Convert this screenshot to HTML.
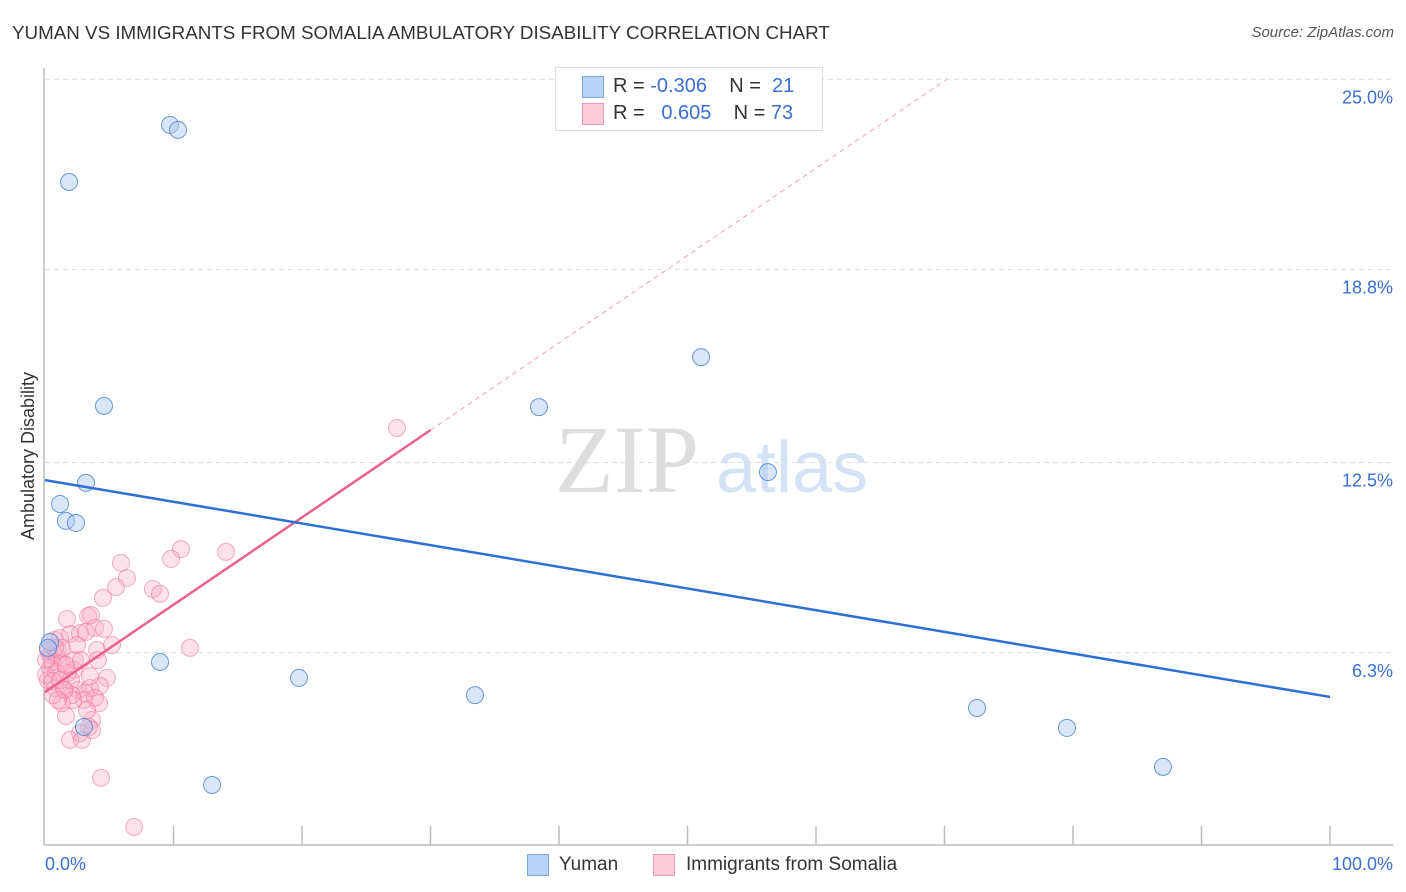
<!DOCTYPE html>
<html><head><meta charset="utf-8">
<style>
body{margin:0;background:#fff;font-family:"Liberation Sans",sans-serif;}
#wrap{position:relative;width:1406px;height:892px;overflow:hidden;}
.t{position:absolute;white-space:nowrap;}
</style></head>
<body>
<div id="wrap">
<div class="t" style="left:12px;top:22px;font-size:18.8px;color:#333;">YUMAN VS IMMIGRANTS FROM SOMALIA AMBULATORY DISABILITY CORRELATION CHART</div>
<div class="t" style="right:12px;top:24px;font-size:15px;color:#555;font-style:italic;">Source: ZipAtlas.com</div>
<svg id="svg" width="1406" height="892" style="position:absolute;left:0;top:0">
<text x="555" y="492" font-size="96" font-family="Liberation Serif" fill="#ddd">ZIP</text>
<text x="716" y="492" font-size="72" font-family="Liberation Sans" fill="#d3e2f4">atlas</text>
<text transform="translate(34,456) rotate(-90)" text-anchor="middle" font-size="18" fill="#333">Ambulatory Disability</text>
</svg>
<div class="t" style="left:555px;top:67px;width:266px;height:62px;border:1px solid #ddd;background:#fff;">
 <div style="position:absolute;left:26px;top:8px;width:20px;height:20px;background:#b8d3f5;border:1px solid #7aa7e0;"></div>
 <div style="position:absolute;left:26px;top:35px;width:20px;height:20px;background:#fbc9d8;border:1px solid #ef9ab6;"></div>
 <div class="t" style="left:57px;top:7px;font-size:20px;color:#333;">R = <span style="color:#3a6fd0">-0.306</span>&nbsp;&nbsp;&nbsp; N = &nbsp;<span style="color:#3a6fd0">21</span></div>
 <div class="t" style="left:57px;top:34px;font-size:20px;color:#333;">R = &nbsp;&nbsp;<span style="color:#3a6fd0">0.605</span>&nbsp;&nbsp;&nbsp; N = <span style="color:#3a6fd0">73</span></div>
</div>
<div class="t" style="left:527px;top:854px;width:20px;height:20px;background:#b8d3f5;border:1px solid #7aa7e0;"></div>
<div class="t" style="left:559px;top:854px;font-size:19px;color:#333;">Yuman</div>
<div class="t" style="left:653px;top:854px;width:20px;height:20px;background:#fbc9d8;border:1px solid #ef9ab6;"></div>
<div class="t" style="left:686px;top:854px;font-size:19px;color:#333;">Immigrants from Somalia</div>
</div>
<script>
const yTicks=[25.0,18.8,12.5,6.3];
const yTickLabels=["25.0%","18.8%","12.5%","6.3%"];
const xTickLabels=["0.0%","100.0%"];
const yumanX=[9.73,10.35,1.87,4.59,3.19,1.17,1.63,2.41,8.95,19.77,33.46,38.44,51.05,56.26,72.53,79.53,87.0,13.0,3.03,0.39,0.23];
const yumanY=[23.51,23.35,21.65,14.35,11.84,11.15,10.6,10.53,6.0,5.48,4.92,14.31,15.94,12.19,4.5,3.85,2.58,1.99,3.88,6.65,6.46];
const somX=[27.39,10.58,14.09,9.81,5.91,6.38,5.53,8.40,8.95,4.51,1.71,3.35,3.58,11.28,5.21,3.89,4.59,0.78,1.95,2.72,3.19,1.17,2.49,4.05,0.39,0.93,1.32,2.26,1.79,0.39,0.86,0.23,4.12,4.82,0.78,1.56,2.57,3.50,4.28,3.11,2.10,4.20,3.03,1.32,1.63,3.66,3.42,2.72,1.95,2.88,6.93,4.36,3.66,0.54,1.01,0.08,0.08,0.62,1.32,2.33,3.50,0.62,2.02,1.63,0.23,1.17,2.80,3.89,3.27,2.18,0.78,1.48,1.01];
const somY=[13.63,9.68,9.59,9.36,9.23,8.74,8.44,8.38,8.22,8.09,7.40,7.50,7.53,6.46,6.55,7.11,7.08,6.72,6.91,6.94,6.98,6.78,6.55,6.39,6.23,6.16,5.97,5.74,5.64,5.80,5.67,5.41,6.06,5.48,5.15,5.09,5.09,5.15,5.22,4.99,4.92,4.66,4.76,4.66,4.24,4.11,3.88,3.68,3.46,3.46,0.62,2.22,3.78,6.0,6.39,6.06,5.58,5.38,6.46,6.06,5.54,4.92,5.41,5.90,6.39,5.41,6.06,4.83,4.43,4.76,6.46,5.09,4.76];
const yumanTrend=[11.93,4.86]; // values at x=0 and x=100
const somTrend=[5.02,13.56];   // values at x=0 and x=30
const somTrendEndX=[0,30];
const X0=45,X1=1330,YB=846,PPV=30.67;
const sx=v=>X0+(X1-X0)*v/100, sy=v=>YB-PPV*v;
const svg=document.getElementById('svg'),NS='http://www.w3.org/2000/svg';
function mk(tag,attrs){const e=document.createElementNS(NS,tag);for(const k in attrs)e.setAttribute(k,attrs[k]);svg.appendChild(e);return e;}
yTicks.forEach((v,i)=>{
 const g=mk('line',{x1:45,x2:1393,y1:sy(v),y2:sy(v),stroke:'#ddd','stroke-dasharray':'5,4'});
 
 
 const t=mk('text',{x:1393,y:sy(v)+24,'text-anchor':'end','font-size':18,fill:'#3a6fd0'});
 t.textContent=yTickLabels[i];
 
 
});
const ax=mk('line',{x1:44,x2:44,y1:68,y2:845,stroke:'#bbb','stroke-width':1.5});


const bx=mk('line',{x1:44,x2:1393,y1:845,y2:845,stroke:'#bbb','stroke-width':1.5});


for(let i=1;i<=10;i++){
 const tk=mk('line',{x1:sx(i*10),x2:sx(i*10),y1:826,y2:845,stroke:'#bbb','stroke-width':1.5});
 
 
}
[[0,'start'],[100,'end']].forEach((p,i)=>{
 const t=mk('text',{x:i?1393:45,y:870,'text-anchor':p[1],'font-size':18,fill:'#3a6fd0'});
 t.textContent=xTickLabels[i];
 
 
});
somX.forEach((x,i)=>{
 const c=mk('circle',{cx:sx(x),cy:sy(somY[i]),r:8.5,fill:'rgba(248,170,195,0.35)',stroke:'rgba(235,120,160,0.6)','stroke-width':1});
 
 
});
yumanX.forEach((x,i)=>{
 const c=mk('circle',{cx:sx(x),cy:sy(yumanY[i]),r:8.5,fill:'rgba(170,200,240,0.45)',stroke:'rgba(70,130,210,0.8)','stroke-width':1});
 
 
});
const slope=(somTrend[1]-somTrend[0])/(somTrendEndX[1]-somTrendEndX[0]);
const xEnd=(25-somTrend[0])/slope;
const dl=mk('line',{x1:sx(somTrendEndX[1]),y1:sy(somTrend[1]),x2:sx(xEnd),y2:sy(25),stroke:'#f0a0b8','stroke-width':1,'stroke-dasharray':'5,4'});


const pl=mk('line',{x1:sx(somTrendEndX[0]),y1:sy(somTrend[0]),x2:sx(somTrendEndX[1]),y2:sy(somTrend[1]),stroke:'#e8628d','stroke-width':2.5});


const yl=mk('line',{x1:sx(0),y1:sy(yumanTrend[0]),x2:sx(100),y2:sy(yumanTrend[1]),stroke:'#2f6fd3','stroke-width':2.5});


</script>
</body></html>
